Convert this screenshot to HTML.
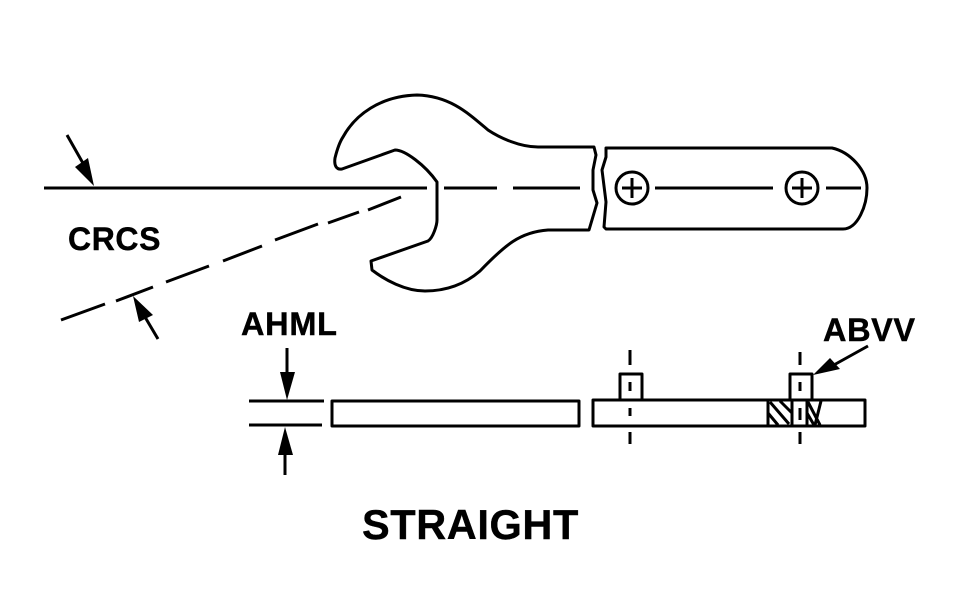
<!DOCTYPE html>
<html>
<head>
<meta charset="utf-8">
<style>
html,body{margin:0;padding:0;background:#fff;}
svg{display:block;}
text{font-family:"Liberation Sans",sans-serif;font-weight:bold;fill:#000;stroke:#000;stroke-width:.4px;}
</style>
</head>
<body>
<svg width="956" height="600" viewBox="0 0 956 600" xmlns="http://www.w3.org/2000/svg">
<rect width="956" height="600" fill="#fff"/>
<g fill="none" stroke="#000" stroke-width="3" stroke-linejoin="round" stroke-linecap="butt">
<!-- wrench -->
<path d="M342,169 C336,170 334,165 335,158 C337,150 339,143 343,137 C355,115 380,96 417,95 C450,96 468,113 488,130 C500,138 520,147 538,147 L594,147 L596,155 L593,170 L593,190 L597,203 L589,230 L548,230 C520,232 505,245 480,271 C465,284 447,291 425,291 C405,291 385,280 372,270 L371,261 L428,241 C433,238 437,225 437,220 L437,182 C425,165 405,150 395,150 Z"/>
<!-- handle -->
<path d="M606,148 L832,148 C850,152 867,170 867,188 C867,205 858,229 843,229 L606,229 L604,227 L606,202 L602,170 L606,157 Z"/>
<circle cx="632" cy="188" r="16"/>
<circle cx="802" cy="188" r="16"/>
<path d="M622,188H642M632,178V198M792,188H812M802,178V198"/>
<!-- centre line -->
<path d="M44,188H427M444,188H497M513,188H580M655,188H773M826,188H861"/>
<!-- sloped dashed line -->
<path d="M61,320L105,304M116,301L153,287M166,282L209,266M223,261L262,246M275,240L318,224M328,223L359,212M368,210L401,197"/>
<!-- section views -->
<path d="M249,401H324M249,425H322"/>
<rect x="332" y="401" width="247" height="25"/>
<rect x="593" y="400" width="272" height="26"/>
<rect x="620" y="374" width="22" height="26"/>
<rect x="790" y="374" width="22" height="26"/>
<path d="M792,400V426M807,400V426M768,400V426"/>
<path d="M630,350V365M630,382V391M630,408V416M630,432V444M800,352V365M800,382V391M800,408V420M800,432V444"/>
<!-- hatching -->
<path d="M770,402L789,424M780,401L792,413M768,413L778,425M808,402L820,425M807,413L814,425M821,401L815,425"/>
<!-- arrow shafts -->
<path d="M67,135L84,165M158,339L145,317M287,348V375M285,452V475M868,346L832,366"/>
</g>
<g fill="#000" stroke="none">
<polygon points="94,186 75,167 88,158"/>
<polygon points="133,296 139,322 153,315"/>
<polygon points="287,400 280,372 295,372"/>
<polygon points="285,427 278,455 293,455"/>
<polygon points="813,375 830,358 840,369"/>
</g>
<text x="68" y="250" font-size="32" letter-spacing=".6">CRCS</text>
<text x="241" y="335" font-size="32.5" letter-spacing=".7">AHML</text>
<text x="823" y="341" font-size="32.5" letter-spacing=".6">ABVV</text>
<text x="362" y="539" font-size="41.5" letter-spacing=".6">STRAIGHT</text>
</svg>
</body>
</html>
